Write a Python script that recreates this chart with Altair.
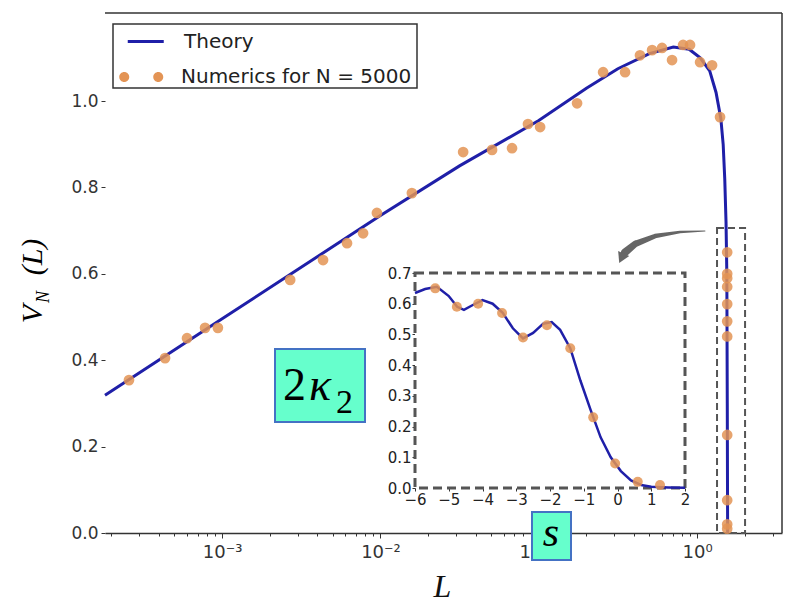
import altair as alt
import pandas as pd

NUM_LABEL = "Numerics for N = 5000"
BLUE = "#1f1fa8"
ORANGE = "#E39455"
GRAY = "#555555"

# ---------------- main panel data ----------------
theory_L = [1.82e-4, 1.0e-3, 0.01, 0.0316, 0.1, 0.2, 0.316, 0.5, 0.708, 0.891,
            1.047, 1.202, 1.318, 1.413, 1.462, 1.496, 1.524, 1.542, 1.552, 1.560]
theory_V = [0.319, 0.496, 0.735, 0.85, 0.955, 1.03, 1.075, 1.11, 1.125, 1.12,
            1.10, 1.07, 1.02, 0.96, 0.90, 0.82, 0.72, 0.60, 0.30, 0.0]

num_L = [2.58e-4, 4.36e-4, 6.0e-4, 7.8e-4, 9.4e-4, 2.69e-3, 4.34e-3, 6.15e-3, 7.77e-3, 9.5e-3,
         0.0158, 0.0333, 0.0507, 0.0678, 0.0855, 0.102, 0.1746, 0.255, 0.351, 0.436,
         0.52, 0.601, 0.695, 0.816, 0.903, 1.045, 1.244, 1.397,
         1.55, 1.55, 1.55, 1.55, 1.55, 1.55, 1.55, 1.55, 1.55, 1.55, 1.55]
num_V = [0.354, 0.405, 0.451, 0.475, 0.475, 0.586, 0.632, 0.671, 0.694, 0.741,
         0.787, 0.882, 0.887, 0.891, 0.947, 0.94, 0.995, 1.067, 1.067, 1.106,
         1.118, 1.123, 1.095, 1.13, 1.13, 1.09, 1.083, 0.963,
         0.65, 0.59, 0.60, 0.57, 0.53, 0.49, 0.455, 0.227, 0.076, 0.02, 0.01]

zoom_box_L = [1.337, 2.01]
zoom_box_V = [0.0, 0.706]

arrow_L = [1.123, 0.781, 0.543, 0.406, 0.351]
arrow_V = [0.699, 0.697, 0.6875, 0.669, 0.650]
arrow_w = [1.0, 2.5, 4.5, 6.5, 8.0]
arrow_head_L = [0.333]
arrow_head_V = [0.636]

x_major = [0.001, 0.01, 0.1, 1.0]
x_major_labels = ["10⁻³", "10⁻²", "10⁻¹", "10⁰"]
x_minor = [0.0002, 0.0003, 0.0004, 0.0005, 0.0006, 0.0007, 0.0008, 0.0009,
           0.002, 0.003, 0.004, 0.005, 0.006, 0.007, 0.008, 0.009,
           0.02, 0.03, 0.04, 0.05, 0.06, 0.07, 0.08, 0.09,
           0.2, 0.3, 0.4, 0.5, 0.6, 0.7, 0.8, 0.9, 2.0, 3.0]
y_ticks = [0.0, 0.2, 0.4, 0.6, 0.8, 1.0]

# ---------------- inset data ----------------
inset_curve_s = [-6.0, -5.7, -5.35, -5.0, -4.75, -4.55, -4.3, -4.0, -3.7, -3.4, -3.1, -2.8,
                 -2.5, -2.2, -1.95, -1.7, -1.4, -1.1, -0.8, -0.5, -0.2, 0.1, 0.4, 0.7,
                 1.0, 1.5, 2.0]
inset_curve_v = [0.635, 0.648, 0.655, 0.625, 0.59, 0.58, 0.595, 0.612, 0.60, 0.57, 0.52, 0.487,
                 0.505, 0.535, 0.54, 0.515, 0.455, 0.35, 0.255, 0.165, 0.10, 0.055, 0.025, 0.01,
                 0.004, 0.002, 0.001]
inset_pts_s = [-5.4, -4.76, -4.13, -3.42, -2.8, -2.09, -1.4, -0.72, -0.07, 0.6, 1.26]
inset_pts_v = [0.65, 0.59, 0.60, 0.57, 0.49, 0.53, 0.455, 0.23, 0.08, 0.02, 0.01]
inset_x_ticks = [-6, -5, -4, -3, -2, -1, 0, 1, 2]
inset_y_ticks = [0.0, 0.1, 0.2, 0.3, 0.4, 0.5, 0.6, 0.7]
inset_box_s = [-6.0, 2.0]
inset_box_v = [0.0, 0.7]

# ---------------- layout ----------------
W, H = 677, 520
INSET_X = [310, 580]   # pixel range of inset inside plot area
INSET_Y = [475, 260]

main_x = alt.Scale(type="log", domain=[1.82e-4, 3.44], nice=False)
main_y = alt.Scale(domain=[0, 1.204], nice=False, zero=False)
ins_x = alt.Scale(domain=[-6, 2], range=INSET_X, nice=False, zero=False)
ins_y = alt.Scale(domain=[0, 0.7], range=INSET_Y, nice=False, zero=False)

label_expr = " : ".join(
    [f"datum.value === {v} ? '{t}'" for v, t in zip(x_major, x_major_labels)]
) + " : ''"

x_axis = alt.Axis(
    values=x_major + x_minor, labelExpr=label_expr,
    tickSize={"condition": {"test": "indexof([0.001,0.01,0.1,1], datum.value) >= 0", "value": 5}, "value": 3},
    tickColor="#333", domainColor="#333", domainWidth=1.5,
    labelFont="DejaVu Sans", labelFontSize=18, labelColor="#333", labelPadding=5,
    title="L", titleFont="Liberation Serif", titleFontStyle="italic", titleFontWeight="normal",
    titleFontSize=32, titleColor="#111", titleX=337, titleY=63, titleBaseline="alphabetic",
    grid=False, labelFlush=False, labelOverlap=False,
)
y_axis = alt.Axis(
    values=y_ticks, format=".1f", domain=False, tickSize=4, tickColor="#333",
    labelFont="DejaVu Sans", labelFontSize=17, labelColor="#333", labelPadding=3,
    title=None, grid=False,
)

LINE_PATH = "M-0.175,0H3.425"
DOTS_PATH = ("M-0.875,0A0.5,0.5,0,1,0,0.125,0A0.5,0.5,0,1,0,-0.875,0Z"
             "M2.525,0A0.5,0.5,0,1,0,3.525,0A0.5,0.5,0,1,0,2.525,0Z")

common_leg = dict(title=None, orient="none", legendX=13, symbolSize=400, labelOffset=43,
                  labelFont="DejaVu Sans", labelFontSize=20, labelColor="#222",
                  labelLimit=400, padding=0, symbolOpacity=1)
line_leg = alt.Legend(legendY=17, symbolType=LINE_PATH, symbolStrokeWidth=3, **common_leg)
pts_leg = alt.Legend(legendY=54, symbolType=DOTS_PATH, symbolStrokeWidth=0, **common_leg)

theory_df = pd.DataFrame({"L": theory_L, "V": theory_V, "series": "Theory"})
num_df = pd.DataFrame({"L": num_L, "V": num_V, "series": NUM_LABEL})
zoom_df = pd.DataFrame({"L1": [zoom_box_L[0]], "L2": [zoom_box_L[1]],
                        "V1": [zoom_box_V[0]], "V2": [zoom_box_V[1]]})
arrow_df = pd.DataFrame({"L": arrow_L, "V": arrow_V, "w": arrow_w})
head_df = pd.DataFrame({"L": arrow_head_L, "V": arrow_head_V})
one = pd.DataFrame({"a": [0]})

zoom_rect = alt.Chart(zoom_df).mark_rect(
    fill="transparent", stroke=GRAY, strokeDash=[7, 4], strokeWidth=2
).encode(
    x=alt.X("L1:Q", scale=main_x, axis=x_axis), x2="L2:Q",
    y=alt.Y("V1:Q", scale=main_y, axis=y_axis), y2="V2:Q",
)
legend_box = alt.Chart(one).mark_rect(fill="white", stroke="#333", strokeWidth=1.5).encode(
    x=alt.value(8), x2=alt.value(312), y=alt.value(11), y2=alt.value(75))
theory_line = alt.Chart(theory_df).mark_line(strokeWidth=3).encode(
    x=alt.X("L:Q", scale=main_x), y=alt.Y("V:Q", scale=main_y),
    stroke=alt.Stroke("series:N", scale=alt.Scale(domain=["Theory"], range=[BLUE]), legend=line_leg),
)
num_pts = alt.Chart(num_df).mark_point(filled=True, size=115, opacity=0.85).encode(
    x=alt.X("L:Q", scale=main_x), y=alt.Y("V:Q", scale=main_y),
    fill=alt.Fill("series:N", scale=alt.Scale(domain=[NUM_LABEL], range=[ORANGE]), legend=pts_leg),
)
arrow = alt.Chart(arrow_df).mark_trail(color="#666666").encode(
    x=alt.X("L:Q", scale=main_x), y=alt.Y("V:Q", scale=main_y),
    size=alt.Size("w:Q", scale=None, legend=None),
)
arrow_head = alt.Chart(head_df).mark_point(
    shape="triangle-up", angle=205, filled=True, size=150, color="#666666", opacity=1
).encode(x=alt.X("L:Q", scale=main_x), y=alt.Y("V:Q", scale=main_y))

top_spine = alt.Chart(one).mark_rule(color="#333", strokeWidth=1.5).encode(
    x=alt.value(0), x2=alt.value(W), y=alt.value(0))
right_spine = alt.Chart(one).mark_rule(color="#333", strokeWidth=1.5).encode(
    x=alt.value(W), y=alt.value(0), y2=alt.value(H))

main_layer = alt.layer(zoom_rect, legend_box, theory_line, num_pts, arrow, arrow_head,
                       top_spine, right_spine)

# ---------------- inset ----------------
ins_box_df = pd.DataFrame({"s1": [inset_box_s[0]], "s2": [inset_box_s[1]],
                           "v1": [inset_box_v[0]], "v2": [inset_box_v[1]]})
ins_curve_df = pd.DataFrame({"s": inset_curve_s, "v": inset_curve_v})
ins_pts_df = pd.DataFrame({"s": inset_pts_s, "v": inset_pts_v})

ins_x_axis = alt.Axis(orient="bottom", offset=-45, values=inset_x_ticks, format="d",
                      domain=False, tickSize=3, tickColor="#333", labelFont="DejaVu Sans",
                      labelFontSize=15, labelColor="#222", labelPadding=1, title=None,
                      grid=False, labelFlush=False, labelOverlap=False)
ins_y_axis = alt.Axis(orient="left", offset=-310, values=inset_y_ticks, format=".1f",
                      domain=False, tickSize=3, tickColor="#333", labelFont="DejaVu Sans",
                      labelFontSize=15, labelColor="#222", labelPadding=1, title=None,
                      grid=False, labelFlush=False, labelOverlap=False)

ins_box = alt.Chart(ins_box_df).mark_rect(
    fill="white", stroke=GRAY, strokeDash=[9, 5], strokeWidth=3
).encode(
    x=alt.X("s1:Q", scale=ins_x, axis=ins_x_axis), x2="s2:Q",
    y=alt.Y("v1:Q", scale=ins_y, axis=ins_y_axis), y2="v2:Q",
)
ins_line = alt.Chart(ins_curve_df).mark_line(color=BLUE, strokeWidth=2.5).encode(
    x=alt.X("s:Q", scale=ins_x), y=alt.Y("v:Q", scale=ins_y))
ins_pts = alt.Chart(ins_pts_df).mark_point(filled=True, size=100, color=ORANGE, opacity=0.85).encode(
    x=alt.X("s:Q", scale=ins_x), y=alt.Y("v:Q", scale=ins_y))

inset_layer = alt.layer(ins_box, ins_line, ins_pts)

# ---------------- annotations ----------------
def txt(t, x, y, size, style="normal", align="center", baseline="middle", angle=0, font="Liberation Serif"):
    kw = dict(fontSize=size, fontStyle=style, font=font, align=align, baseline=baseline, color="#000")
    if angle:
        kw["angle"] = angle
    return alt.Chart(pd.DataFrame({"t": [t]})).mark_text(**kw).encode(
        x=alt.value(x), y=alt.value(y), text="t:N")

def box(x1, x2, y1, y2):
    return alt.Chart(one).mark_rect(fill="#66FFCC", stroke="#4472C4", strokeWidth=2).encode(
        x=alt.value(x1), x2=alt.value(x2), y=alt.value(y1), y2=alt.value(y2))

annot = alt.layer(
    txt("V", -72, 301, 30, "italic", angle=270),
    txt("N", -61, 284, 18, "italic", angle=270),
    txt("(L)", -72, 244, 30, "italic", angle=270),
    box(170, 260, 336, 409),
    txt("2", 178, 387, 46, align="left", baseline="alphabetic"),
    txt("κ", 204, 387, 46, "italic", align="left", baseline="alphabetic"),
    txt("2", 231, 400, 34, align="left", baseline="alphabetic"),
    box(427, 466, 499, 547),
    txt("s", 446, 533, 42, "italic", baseline="alphabetic"),
)

chart = alt.layer(main_layer, inset_layer, annot).resolve_scale(
    x="independent", y="independent"
).properties(
    width=W, height=H,
    padding={"left": 105, "top": 13, "right": 4, "bottom": 66},
    autosize=alt.AutoSizeParams(type="none"),
    background="white",
).configure_view(stroke=None)

chart.save("out.html", embed_options={"renderer": "svg", "actions": False})
